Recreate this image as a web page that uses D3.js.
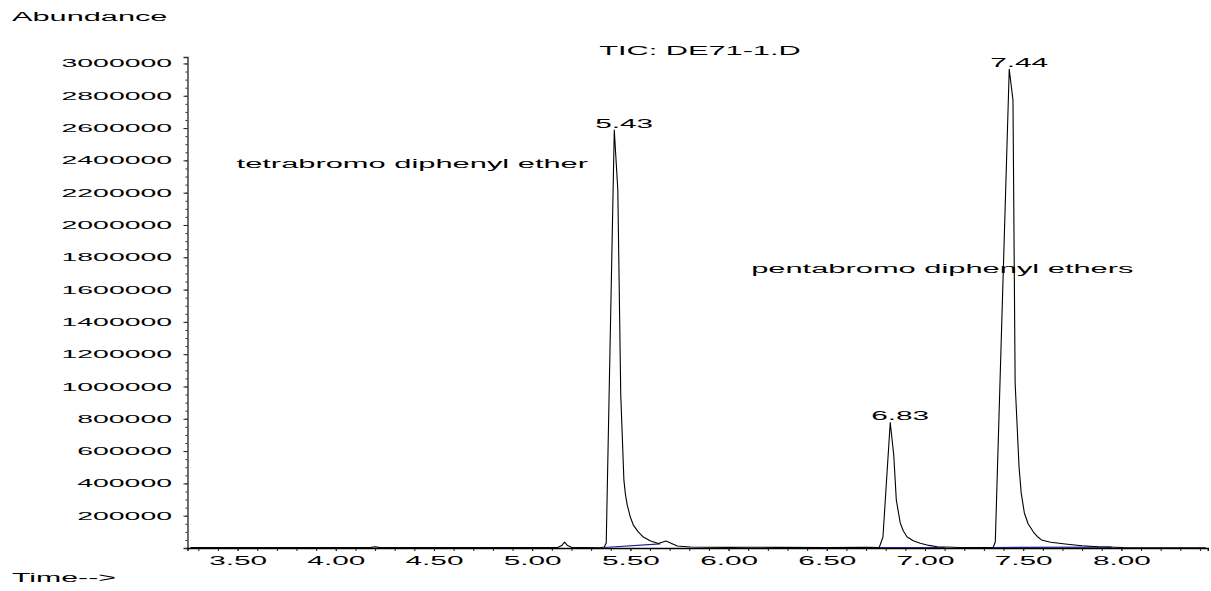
<!DOCTYPE html>
<html>
<head>
<meta charset="utf-8">
<script src="https://cdn.jsdelivr.net/npm/d3@7"></script>
<style>
  html, body { margin: 0; padding: 0; background: #fff; }
  svg { display: block; }
  text { font-family: "Liberation Sans", Arial, Helvetica, sans-serif; fill: #000; }
</style>
</head>
<body>
<svg id="chart" width="1211" height="591"></svg>
<script>
// ---- data ----
const traceTimes = [
  3.26, 3.60, 4.00, 4.18, 4.20, 4.22, 4.60, 5.00, 5.13, 5.15, 5.165, 5.18, 5.20,
  5.347, 5.367, 5.377, 5.418, 5.436, 5.451, 5.467, 5.475, 5.484, 5.50, 5.515, 5.54, 5.566, 5.60, 5.643,
  5.681, 5.739, 5.805,
  6.00, 6.10, 6.25, 6.50, 6.70, 6.767, 6.786, 6.823, 6.841, 6.854, 6.874, 6.89, 6.908, 6.94, 6.976,
  7.02, 7.063, 7.18,
  7.347, 7.358, 7.429, 7.448, 7.459, 7.479, 7.49, 7.506, 7.525, 7.552, 7.575, 7.593, 7.64, 7.714,
  7.80, 7.882, 8.01, 8.43
];
const traceValues = [
  3000, 3000, 3000, 4000, 8000, 4000, 3000, 3000, 3000, 15000, 37000, 15000, 4000,
  2000, 6000, 31000, 2588000, 2217000, 947000, 420000, 330000, 266000, 190000, 142000, 100000, 68000, 45000, 28000,
  43000, 12000, 6000,
  4000, 5000, 4000, 3000, 5000, 3000, 68000, 776000, 576000, 297000, 155000, 105000, 70000, 45000, 29000,
  16000, 8000, 3000,
  3000, 37000, 2964000, 2774000, 1022000, 500000, 340000, 217000, 150000, 99000, 68000, 50000, 36000, 25000,
  14000, 8000, 3000, 2000
];
// integration baselines (start time, start value, end time, end value)
const baseStartTimes = [5.367, 6.77, 7.35];
const baseStartValues = [3000, 3000, 3000];
const baseEndTimes = [5.652, 7.10, 7.95];
const baseEndValues = [25000, 3000, 5000];

const peakTimes = [5.418, 6.823, 7.429];
const peakValues = [2588000, 776000, 2964000];
const peakLabels = ["5.43", "6.83", "7.44"];

const yTickValues = [200000, 400000, 600000, 800000, 1000000, 1200000, 1400000, 1600000,
  1800000, 2000000, 2200000, 2400000, 2600000, 2800000, 3000000];
const xTickValues = [3.5, 4.0, 4.5, 5.0, 5.5, 6.0, 6.5, 7.0, 7.5, 8.0];

const titleText = "TIC: DE71-1.D";
const yAxisTitle = "Abundance";
const xAxisTitle = "Time-->";
const annotations = ["tetrabromo diphenyl ether", "pentabromo diphenyl ethers"];
const annotationTimes = [3.495, 6.115];
const annotationValues = [2350000, 1700000];

// ---- drawing ----
const svg = d3.select("#chart");
const x = d3.scaleLinear().domain([3.245, 8.44]).range([187.5, 1207.8]);
const y = d3.scaleLinear().domain([0, 3040000]).range([548, 57]);

function stretch(sel, f) {
  sel.each(function () {
    const w = this.getComputedTextLength();
    this.setAttribute("textLength", w * f);
    this.setAttribute("lengthAdjust", "spacingAndGlyphs");
  });
}

// minor y ticks
const yMinor = d3.range(1, 61).map(i => i * 50000);
svg.append("g").attr("transform", "translate(187.5,0)")
  .call(d3.axisLeft(y).tickValues(yMinor).tickSize(2).tickFormat(""))
  .call(g => g.select(".domain").remove())
  .selectAll("line").attr("stroke", "#222");

// y axis
const gy = svg.append("g").attr("transform", "translate(187.5,0)")
  .call(d3.axisLeft(y).tickValues(yTickValues).tickSize(4).tickPadding(11.5).tickFormat(d3.format("d")));
gy.select(".domain").attr("stroke", "#333").attr("stroke-width", 1.4);
gy.selectAll("line").attr("stroke", "#222");
gy.selectAll("text").attr("font-size", 11).attr("font-family", "Liberation Sans, Arial, sans-serif").attr("fill", "#000");
stretch(gy.selectAll("text"), 2.58);

// minor x ticks
const xMinor = d3.range(33, 85).map(i => i / 10);
svg.append("g").attr("transform", "translate(0,548)")
  .call(d3.axisBottom(x).tickValues(xMinor).tickSize(3).tickFormat(""))
  .call(g => g.select(".domain").remove())
  .selectAll("line").attr("stroke", "#222");

// x axis
const gx = svg.append("g").attr("transform", "translate(0,548)")
  .call(d3.axisBottom(x).tickValues(xTickValues).tickSize(3).tickPadding(5.5).tickFormat(d3.format(".2f")));
gx.select(".domain").attr("stroke", "#000").attr("stroke-width", 1.4);
gx.selectAll("line").attr("stroke", "#222");
gx.selectAll("text").attr("font-size", 12).attr("font-family", "Liberation Sans, Arial, sans-serif").attr("fill", "#000");
stretch(gx.selectAll("text"), 2.48);

// integration baselines
svg.append("g").selectAll("line").data(baseStartTimes).join("line")
  .attr("x1", (d, i) => x(d)).attr("y1", (d, i) => y(baseStartValues[i]))
  .attr("x2", (d, i) => x(baseEndTimes[i])).attr("y2", (d, i) => y(baseEndValues[i]))
  .attr("stroke", "#1c1c8c").attr("stroke-width", 1.2);

// trace
const line = d3.line().x(d => x(d[0])).y(d => y(d[1]));
svg.append("path")
  .datum(traceTimes.map((t, i) => [t, traceValues[i]]))
  .attr("d", line).attr("fill", "none").attr("stroke", "#000").attr("stroke-width", 1.1)
  .attr("stroke-linejoin", "round");

// peak labels
const pl = svg.append("g").selectAll("text").data(peakTimes).join("text")
  .attr("x", d => x(d) - 19).attr("y", (d, i) => y(peakValues[i]) - 2.5)
  .attr("font-size", 12).text((d, i) => peakLabels[i]);
stretch(pl, 2.48);

// annotations
const an = svg.append("g").selectAll("text").data(annotations).join("text")
  .attr("x", (d, i) => x(annotationTimes[i])).attr("y", (d, i) => y(annotationValues[i]))
  .attr("font-size", 12).text(d => d);
stretch(an, 2.57);

// titles
const t1 = svg.append("text").attr("x", 700).attr("y", 55).attr("text-anchor", "middle")
  .attr("font-size", 12).text(titleText);
stretch(t1, 2.56);
const t2 = svg.append("text").attr("x", 12).attr("y", 20.5).attr("font-size", 12).text(yAxisTitle);
stretch(t2, 2.56);
const t3 = svg.append("text").attr("x", 12).attr("y", 582).attr("font-size", 12).text(xAxisTitle);
stretch(t3, 2.52);
</script>
</body>
</html>
